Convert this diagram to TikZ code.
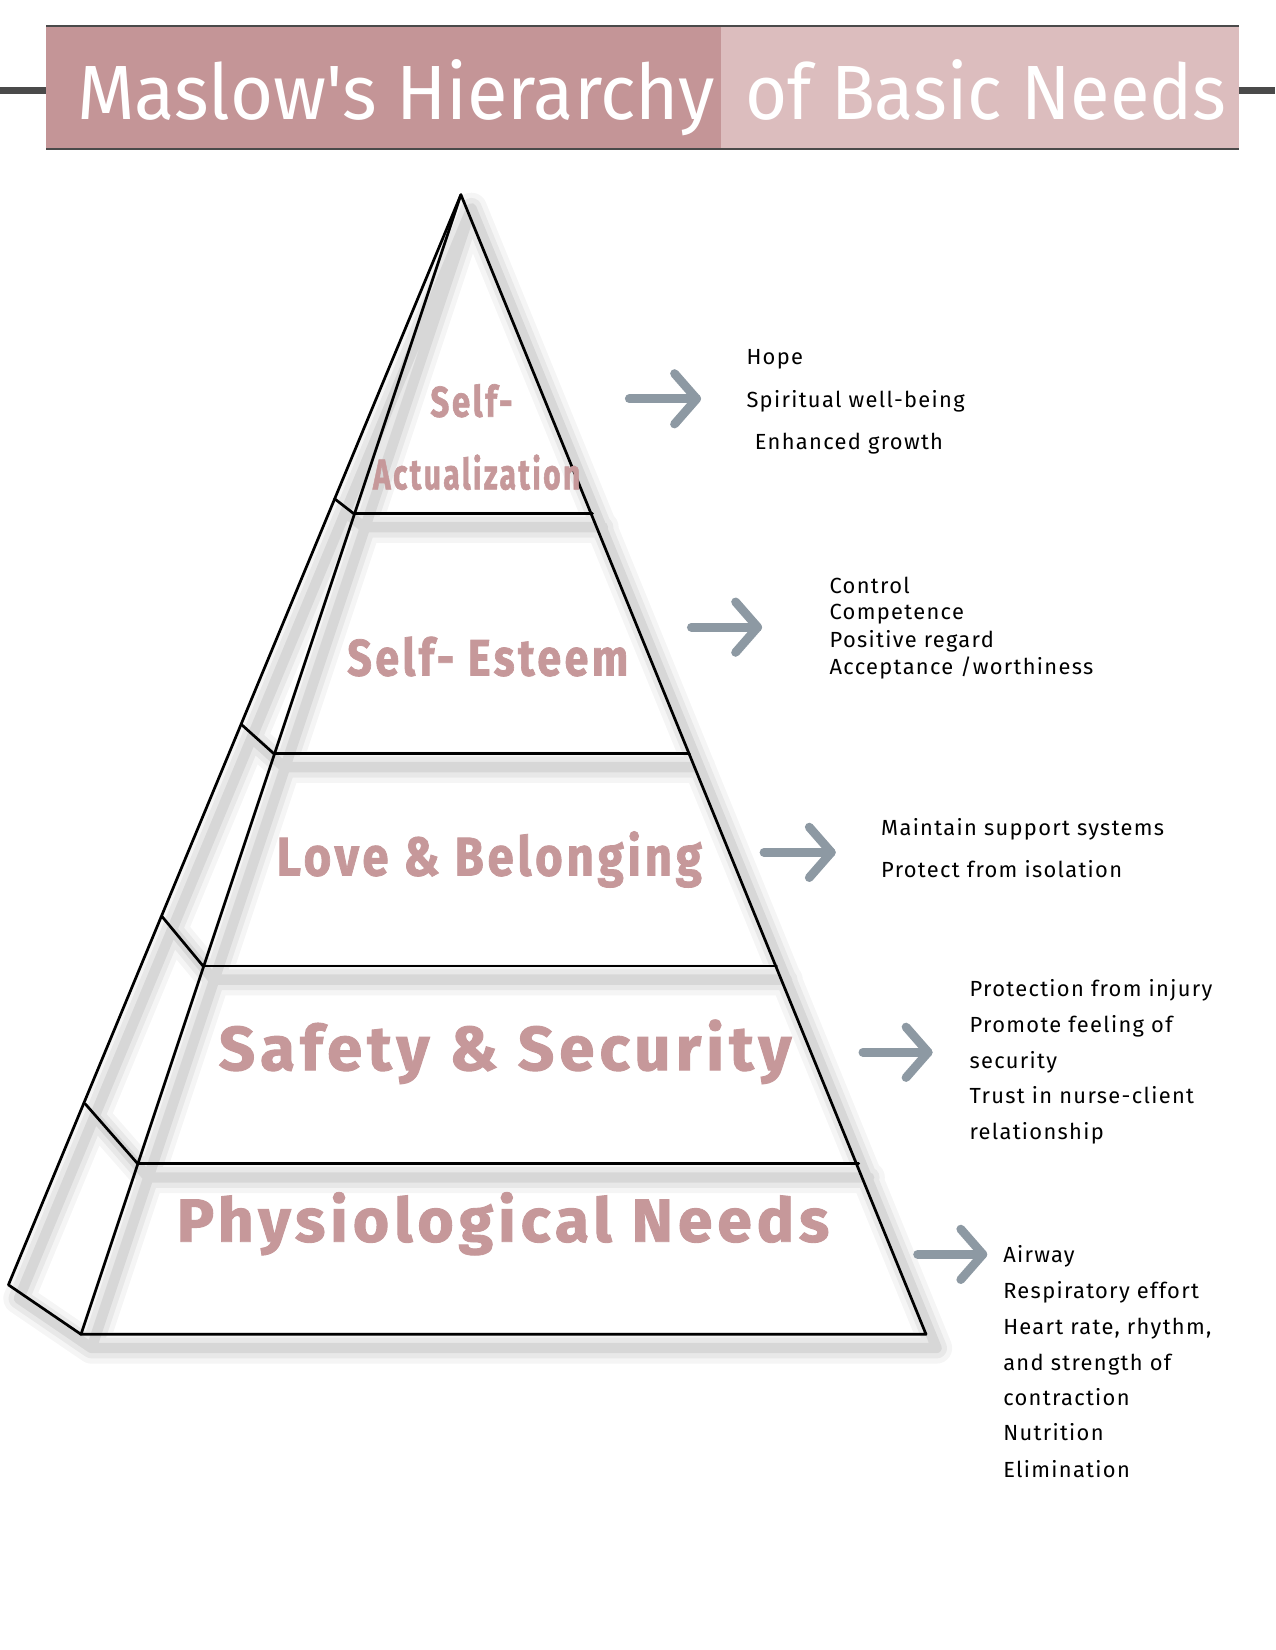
\documentclass[tikz,border=0pt]{standalone}
\usepackage{fontspec}
\usepackage{graphicx}
\usetikzlibrary{calc}
\setmainfont{Fira Sans}
\newfontfamily\titlefont{Fira Sans}
\newfontfamily\labfont[LetterSpace=8,BoldFeatures={FakeBold=1.5}]{Fira Sans}
\newfontfamily\bodyfont[LetterSpace=6]{Fira Sans}
\definecolor{pinkdark}{HTML}{C49597}
\definecolor{pinklight}{HTML}{DCBDBE}
\definecolor{labpink}{HTML}{C6989A}
\definecolor{arrgray}{HTML}{8D99A3}
\definecolor{rulegray}{HTML}{4A4A4A}
\newlength\pxu
\setlength\pxu{0.50495pt}
\newcommand\fitbox[3]{\resizebox{#1\pxu}{#2\pxu}{#3}}
\begin{document}
\begin{tikzpicture}[x=0.50495pt,y=-0.50495pt,
  edge/.style={black,line width=1.3pt,line join=round,line cap=round},
  shad/.style={black,line cap=round,line join=round},
  lab/.style={inner sep=0,anchor=base,text=labpink},
  body/.style={inner sep=0,anchor=base west,font=\bodyfont\fontsize{10.5}{12}\selectfont},
  arr/.style={draw=arrgray,line width=4.2pt,line cap=round,line join=round},
  ttl/.style={inner sep=0,anchor=base west,text=white}]
\useasboundingbox (0,0) rectangle (1212,1568);
\fill[white] (0,0) rectangle (1212,1568);

% title bar
\fill[pinkdark] (44,25) rectangle (685,142);
\fill[pinklight] (685,25) rectangle (1177,142);
\draw[rulegray,line width=0.9pt] (44,25) -- (1177,25);
\draw[rulegray,line width=0.9pt] (44,142) -- (1177,142);
\draw[rulegray,line width=2.9pt] (0,86) -- (44,86);
\draw[rulegray,line width=2.9pt] (1177,86) -- (1212,86);
\node[ttl] (title1) at (73,114) {\fitbox{606}{57}{\titlefont Maslow's Hierarchy}};
\node[ttl] (title2) at (708,114) {\fitbox{457}{57}{\titlefont of Basic Needs}};

% pyramid coordinates
\coordinate (A) at (438,185);
\coordinate (FL) at (77,1268);
\coordinate (FR) at (880,1268);
\coordinate (BL) at (8,1221);
\coordinate (L1) at (336,488); \coordinate (R1) at (563,488); \coordinate (B1) at (318,474);
\coordinate (L2) at (260,716); \coordinate (R2) at (655,716); \coordinate (B2) at (230,689);
\coordinate (L3) at (193,918); \coordinate (R3) at (738,918); \coordinate (B3) at (154,871);
\coordinate (L4) at (131,1106); \coordinate (R4) at (816,1106); \coordinate (B4) at (81,1049);

% soft shadow
\foreach \w/\o in {15pt/0.04,10pt/0.05,5pt/0.07} {
  \draw[shad,line width=\w,opacity=\o,transform canvas={shift={(10,13)}}]
    (A) -- (FR) -- (FL) (A) -- (FL) (A) -- (BL) -- (FL)
    (L1) -- (R1) (L2) -- (R2) (L3) -- (R3) (L4) -- (R4)
    (B1) -- (L1) (B2) -- (L2) (B3) -- (L3) (B4) -- (L4);
}

% pyramid lines
\draw[edge] (A) -- (FR) -- (FL) -- cycle;
\draw[edge] (A) -- (BL) -- (FL);
\draw[edge] (L1) -- (R1) (L2) -- (R2) (L3) -- (R3) (L4) -- (R4);
\draw[edge] (B1) -- (L1) (B2) -- (L2) (B3) -- (L3) (B4) -- (L4);

% level labels
\node[lab] (self1) at (448,396) {\fitbox{78}{31}{\labfont\bfseries Self-}};
\node[lab] (self2) at (453,465) {\fitbox{197}{33}{\labfont\bfseries Actualization}};
\node[lab] (esteem) at (463.5,642) {\fitbox{267}{37}{\labfont\bfseries Self- Esteem}};
\node[lab] (love) at (465,832) {\fitbox{404}{42}{\labfont\bfseries Love \& Belonging}};
\node[lab] (safety) at (480,1017) {\fitbox{544}{48}{\labfont\bfseries Safety \& Security}};
\node[lab] (phys) at (478,1180) {\fitbox{620}{47}{\labfont\bfseries Physiological Needs}};

% arrows
\foreach \n/\xa/\xb/\yy in {1/598/662/379, 2/657/720/596, 3/726/790/810, 4/820/882/1000, 5/872/934/1192} {
  \coordinate (as\n) at (\xa,\yy);
  \coordinate (ae\n) at (\xb,\yy);
  \draw[arr] (as\n) -- (ae\n);
  \draw[arr] ($(ae\n)+(-21,-24)$) -- (ae\n) -- ($(ae\n)+(-21,24)$);
}

% text blocks
\node[body] (h1) at (709,346) {Hope};
\node[body] (h2) at (709,387) {Spiritual well-being};
\node[body] (h3) at (717,427) {Enhanced growth};

\node[body] (e1) at (788,564) {Control};
\node[body] (e2) at (788,589) {Competence};
\node[body] (e3) at (788,615) {Positive regard};
\node[body] (e4) at (788,641) {Acceptance /worthiness};

\node[body] (b1) at (837,794) {Maintain support systems};
\node[body] (b2) at (837,834) {Protect from isolation};

\node[body] (s1) at (921,947) {Protection from injury};
\node[body] (s2) at (921,981) {Promote feeling of};
\node[body] (s3) at (921,1015) {security};
\node[body] (s4) at (921,1049) {Trust in nurse-client};
\node[body] (s5) at (921,1083) {relationship};

\node[body] (p1) at (953,1200) {Airway};
\node[body] (p2) at (953,1234) {Respiratory effort};
\node[body] (p3) at (953,1268) {Heart rate, rhythm,};
\node[body] (p4) at (953,1302) {and strength of};
\node[body] (p5) at (953,1336) {contraction};
\node[body] (p6) at (953,1369) {Nutrition};
\node[body] (p7) at (953,1404) {Elimination};
\end{tikzpicture}
\end{document}
